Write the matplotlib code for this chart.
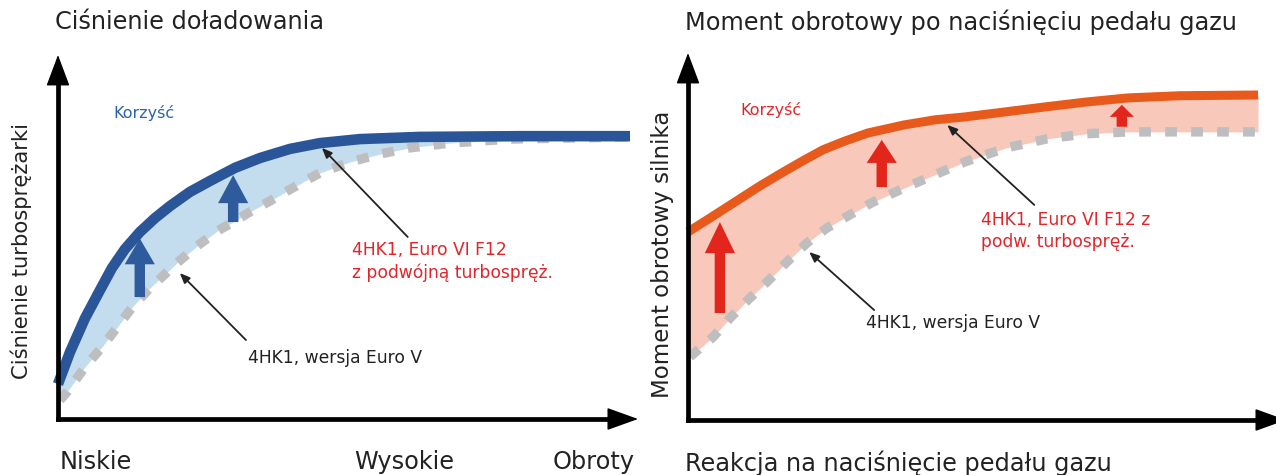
import matplotlib
matplotlib.use("Agg")
import matplotlib.pyplot as plt
import numpy as np

plt.rcParams['font.family'] = ['DejaVu Sans']

W, H = 1276, 475

# ---------------- data (left panel: boost pressure) ----------------
boost_new_x = [0.0, 2.07, 4.66, 7.24, 9.31, 11.55, 14.14, 16.72, 19.31, 22.76, 26.21,
               30.52, 34.83, 40.0, 45.17, 52.07, 62.41, 79.66, 98.62]
boost_new_y = [9.6, 18.4, 27.7, 35.4, 41.5, 46.7, 51.4, 55.2, 58.5, 62.4, 65.4,
               69.0, 71.7, 74.2, 75.8, 76.9, 77.5, 77.7, 77.7]
boost_old_x = [0.34, 1.55, 4.66, 7.59, 10.34, 12.93, 15.86, 18.45, 20.52, 23.97, 27.41,
               30.52, 33.10, 36.55, 39.48, 42.59, 45.17, 50.34, 55.52, 60.69, 67.59,
               77.93, 98.62]
boost_old_y = [5.2, 7.4, 14.3, 19.8, 25.5, 31.0, 36.0, 39.8, 42.9, 47.5, 51.6,
               54.4, 56.9, 59.9, 62.6, 65.4, 67.6, 70.6, 72.8, 74.5, 75.8,
               76.9, 77.5]
boost_gain_x = [14.1, 30.2]
boost_gain_lo = [33.5, 54.1]
boost_gain_hi = [49.6, 67.0]

# ---------------- data (right panel: torque) ----------------
torque_new_x = [0.0, 3.79, 8.10, 12.41, 16.21, 19.83, 23.28, 27.07, 31.03, 37.24, 42.59,
                47.76, 54.83, 61.90, 68.79, 75.86, 84.83, 98.28]
torque_new_y = [51.5, 55.3, 59.7, 64.1, 67.7, 71.0, 74.0, 76.4, 78.6, 80.8, 82.2,
                83.0, 84.4, 85.8, 87.1, 88.2, 88.8, 89.0]
torque_old_x = [0.34, 4.31, 7.24, 10.34, 13.62, 17.07, 20.52, 23.97, 27.93, 31.90, 36.55,
                40.86, 47.76, 54.83, 61.90, 68.79, 75.86, 98.28]
torque_old_y = [17.3, 22.7, 27.9, 32.9, 37.8, 43.3, 48.5, 52.6, 56.2, 59.7, 63.0,
                66.0, 70.7, 74.5, 77.0, 78.4, 78.9, 78.9]
torque_gain_x = [5.5, 33.4, 74.8]
torque_gain_lo = [29.3, 63.8, 80.3]
torque_gain_hi = [54.2, 76.7, 86.3]

# colours
BLUE = '#2A5598'
BLUE_FILL = '#C3DDEF'
BLUE_ARR = '#2D5B9C'
GRAY = '#BEBEC1'
ORANGE = '#E85A1C'
PINK = '#F8C8BA'
RED_ARR = '#E3261B'
RED_TXT = '#E0262B'
KBLUE = '#2B64A8'
TXT = '#222222'

fig = plt.figure(figsize=(W / 100, H / 100), dpi=100)


def fx(px):
    return px / W


def fy(py):
    return 1 - py / H


def make_axes(x0, x1, ytop, ybot, xmax, ymax):
    ax = fig.add_axes([fx(x0), fy(ybot), (x1 - x0) / W, (ybot - ytop) / H])
    ax.set_xlim(0, xmax)
    ax.set_ylim(0, ymax)
    ax.axis('off')
    ax.plot([0, 0], [0, 0.95], transform=ax.transAxes, color='black', lw=3.4,
            solid_capstyle='projecting', clip_on=False, zorder=6)
    ax.plot([0, 0.97], [0, 0], transform=ax.transAxes, color='black', lw=3.4,
            solid_capstyle='projecting', clip_on=False, zorder=6)
    ax.annotate('', xy=(0, 1), xytext=(0, 0.9), xycoords='axes fraction',
                arrowprops=dict(arrowstyle='-|>,head_length=2.0,head_width=0.75',
                                lw=1, color='black', shrinkA=0, shrinkB=0,
                                mutation_scale=10), annotation_clip=False, zorder=6)
    ax.annotate('', xy=(1, 0), xytext=(0.9, 0), xycoords='axes fraction',
                arrowprops=dict(arrowstyle='-|>,head_length=2.0,head_width=0.72',
                                lw=1, color='black', shrinkA=0, shrinkB=0,
                                mutation_scale=10), annotation_clip=False, zorder=6)
    return ax


def draw_panel(ax, nx, ny, ox, oy, gx, glo, ghi, line_c, fill_c, arr_c, lw_new,
               head_w, head_l):
    xs = np.linspace(0, max(nx[-1], ox[-1]), 600)
    ny_i = np.interp(xs, nx, ny)
    oy_i = np.interp(xs, ox, oy)
    ax.fill_between(xs, oy_i, ny_i, color=fill_c, lw=0, zorder=1)
    ax.plot(ox, oy, color=GRAY, lw=6.8, dashes=(1.25, 1.5),
            dash_capstyle='butt', zorder=2, clip_on=False)
    for x, lo, hi, hw, hl in zip(gx, glo, ghi, head_w, head_l):
        ax.arrow(x, lo, 0, hi - lo, width=1.8, head_width=hw, head_length=hl,
                 length_includes_head=True, color=arr_c, lw=0, zorder=3)
    ax.plot(nx, ny, color=line_c, lw=lw_new, solid_capstyle='butt',
            solid_joinstyle='round', zorder=4, clip_on=False)


def pointer(ax, tail, tip):
    ax.annotate('', xy=tip, xytext=tail,
                arrowprops=dict(arrowstyle='-|>,head_length=0.6,head_width=0.25',
                                lw=1.3, color=TXT, shrinkA=0, shrinkB=0,
                                mutation_scale=10), zorder=5)


# ---------------- left panel ----------------
axL = make_axes(58, 638, 55, 419, 100, 100)
draw_panel(axL, boost_new_x, boost_new_y, boost_old_x, boost_old_y,
           boost_gain_x, boost_gain_lo, boost_gain_hi, BLUE, BLUE_FILL, BLUE_ARR,
           7.6, [5.2, 5.2], [7.1, 7.7])
pointer(axL, (32.4, 21.7), (21.0, 40.1))
pointer(axL, (60.3, 50.0), (45.5, 74.5))
axL.text(9.5, 84, 'Korzyść', color=KBLUE, fontsize=11.5, ha='left', va='center')
axL.text(50.7, 46.4, '4HK1, Euro VI F12', color=RED_TXT, fontsize=12.3,
         ha='left', va='center')
axL.text(50.7, 40.1, 'z podwójną turbospręż.', color=RED_TXT, fontsize=12.3,
         ha='left', va='center')
axL.text(32.8, 16.8, '4HK1, wersja Euro V', color=TXT, fontsize=12.3,
         ha='left', va='center')

# ---------------- right panel ----------------
axR = make_axes(688, 1286, 53, 420, 103.1, 100.5)
draw_panel(axR, torque_new_x, torque_new_y, torque_old_x, torque_old_y,
           torque_gain_x, torque_gain_lo, torque_gain_hi, ORANGE, PINK, RED_ARR,
           6.5, [5.2, 5.2, 4.2], [8.5, 6.3, 3.3])
pointer(axR, (32.1, 30.1), (20.9, 46.0))
pointer(axR, (59.7, 58.9), (44.7, 80.8))
axR.text(9.0, 84.9, 'Korzyść', color=RED_TXT, fontsize=11.5, ha='left', va='center')
axR.text(50.5, 54.8, '4HK1, Euro VI F12 z', color=RED_TXT, fontsize=12.3,
         ha='left', va='center')
axR.text(50.5, 48.8, 'podw. turbospręż.', color=RED_TXT, fontsize=12.3,
         ha='left', va='center')
axR.text(30.7, 26.6, '4HK1, wersja Euro V', color=TXT, fontsize=12.3,
         ha='left', va='center')

# ---------------- titles & labels ----------------
FS = 17.3
fig.text(fx(55), fy(22), 'Ciśnienie doładowania', fontsize=FS, color=TXT,
         ha='left', va='center')
fig.text(fx(685), fy(22), 'Moment obrotowy po naciśnięciu pedału gazu',
         fontsize=FS, color=TXT, ha='left', va='center')
fig.text(fx(60), fy(462), 'Niskie', fontsize=FS, color=TXT, ha='left', va='center')
fig.text(fx(404), fy(462), 'Wysokie', fontsize=FS, color=TXT, ha='center', va='center')
fig.text(fx(635), fy(462), 'Obroty', fontsize=FS, color=TXT, ha='right', va='center')
fig.text(fx(685), fy(463), 'Reakcja na naciśnięcie pedału gazu', fontsize=FS,
         color=TXT, ha='left', va='center')
fig.text(fx(21), fy(251), 'Ciśnienie turbosprężarki', fontsize=15.2, color=TXT,
         ha='center', va='center', rotation=90)
fig.text(fx(662), fy(254), 'Moment obrotowy silnika', fontsize=16.5, color=TXT,
         ha='center', va='center', rotation=90)

fig.savefig('out.png', dpi=100)
